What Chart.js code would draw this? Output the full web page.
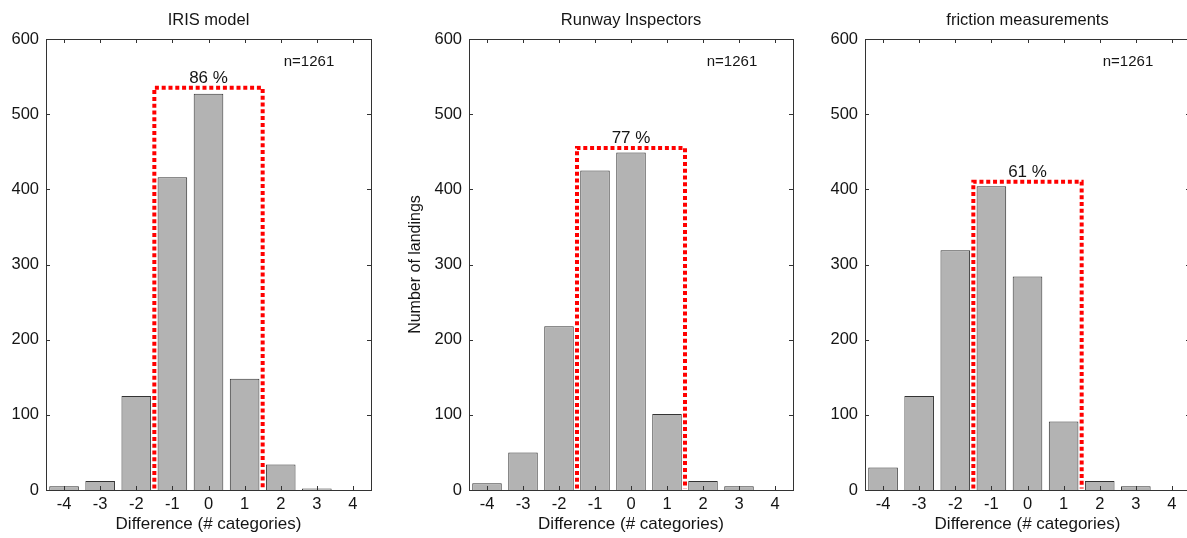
<!DOCTYPE html>
<html>
<head>
<meta charset="utf-8">
<script src="https://cdn.jsdelivr.net/npm/chart.js@4.4.0/dist/chart.umd.min.js"></script>
<style>
    html, body { margin: 0; padding: 0; background: #fff; overflow: hidden; }
    #wrap { position: relative; width: 1187px; height: 538px; overflow: hidden; }
    .panel { position: absolute; top: 0; height: 538px; }
</style>
</head>
<body>
<div id="wrap">
    <div class="panel" style="left:0;width:390px"><canvas id="c1"></canvas></div>
    <div class="panel" style="left:400px;width:410px"><canvas id="c2"></canvas></div>
    <div class="panel" style="left:800px;width:400px"><canvas id="c3"></canvas></div>
</div>
<script>
// ---- data ----
const differences = [-4, -3, -2, -1, 0, 1, 2, 3, 4];
const xTicks = [-4, -3, -2, -1, 0, 1, 2, 3, 4];
const yTicks = [0, 100, 200, 300, 400, 500, 600];

const irisCounts      = [5, 12, 125, 416, 527, 148, 34, 2, 0];
const inspectorCounts = [9, 50, 218, 425, 449, 101, 12, 5, 0];
const frictionCounts  = [30, 125, 319, 404, 284, 91, 12, 5, 0];

const panelTitles = ["IRIS model", "Runway Inspectors", "friction measurements"];
const boxShares = ["86 %", "77 %", "61 %"];
const boxTops = [535, 455, 410];
const boxRange = [-1.5, 1.5];
const boxBottom = 2;
const sampleLabel = "n=1261";

const FONT = '"Liberation Sans", Arial, Helvetica, sans-serif';
const TEXT = "#151515";
Chart.defaults.font.family = FONT;

// frame, inward ticks and the text annotations
const decorPlugin = {
    id: "decor",
    afterDatasetsDraw(chart, args, opts) {
        const ctx = chart.ctx;
        const a = chart.chartArea;
        const xs = chart.scales.x, ys = chart.scales.y;
        ctx.save();

        ctx.strokeStyle = "#333";
        ctx.lineWidth = 1;
        ctx.strokeRect(Math.round(a.left) + 0.5, Math.round(a.top) + 0.5,
            Math.round(a.right - a.left), Math.round(a.bottom - a.top));

        ctx.beginPath();
        xTicks.forEach(function (v) {
            let px = Math.round(xs.getPixelForValue(v)) + 0.5;
            ctx.moveTo(px, a.bottom); ctx.lineTo(px, a.bottom - 4);
            ctx.moveTo(px, a.top); ctx.lineTo(px, a.top + 4);
        });
        yTicks.forEach(function (v) {
            let py = Math.round(ys.getPixelForValue(v)) + 0.5;
            ctx.moveTo(a.left, py); ctx.lineTo(a.left + 4, py);
            ctx.moveTo(a.right, py); ctx.lineTo(a.right - 4, py);
        });
        ctx.stroke();

        ctx.fillStyle = TEXT;
        ctx.textAlign = "center";
        ctx.textBaseline = "middle";

        // panel title
        ctx.font = "16.5px " + FONT;
        ctx.fillText(opts.title, (a.left + a.right) / 2, 20);

        // share inside the box
        ctx.font = "17px " + FONT;
        ctx.fillText(opts.share, xs.getPixelForValue(0), ys.getPixelForValue(opts.boxTop) - 10);

        // sample size
        ctx.font = "15px " + FONT;
        ctx.fillText(sampleLabel, a.left + 263, 62);

        ctx.restore();
    }
};

function makePanel(id, counts, i, yWidth, padRight) {
    let barData = differences.map(function (d, k) { return { x: d, y: counts[k] }; });
    let boxData = [
        { x: boxRange[0], y: boxBottom },
        { x: boxRange[0], y: boxTops[i] },
        { x: boxRange[1], y: boxTops[i] },
        { x: boxRange[1], y: boxBottom }
    ];

    new Chart(document.getElementById(id), {
        type: "bar",
        data: {
            datasets: [
                {
                    type: "line",
                    data: boxData,
                    borderColor: "#ff0000",
                    borderWidth: 4,
                    borderDash: [4, 2.8],
                    borderCapStyle: "butt",
                    borderJoinStyle: "miter",
                    pointRadius: 0,
                    fill: false,
                    tension: 0,
                    order: 0
                },
                {
                    type: "bar",
                    data: barData,
                    backgroundColor: "#b3b3b3",
                    borderColor: "#333",
                    borderWidth: 1,
                    borderSkipped: "start",
                    barPercentage: 0.82,
                    categoryPercentage: 1,
                    order: 1
                }
            ]
        },
        options: {
            responsive: true,
            maintainAspectRatio: false,
            animation: false,
            layout: { padding: { top: 39, right: padRight, left: 0, bottom: 0 } },
            plugins: {
                legend: { display: false },
                tooltip: { enabled: false },
                decor: { title: panelTitles[i], share: boxShares[i], boxTop: boxTops[i] }
            },
            scales: {
                x: {
                    type: "linear",
                    min: -4.5,
                    max: 4.5,
                    offset: false,
                    afterBuildTicks: function (s) { s.ticks = xTicks.map(function (v) { return { value: v }; }); },
                    afterFit: function (s) { s.height = 48; },
                    grid: { display: false, drawTicks: false },
                    border: { display: false },
                    ticks: { color: TEXT, font: { size: 16.5 }, padding: 5, maxRotation: 0, autoSkip: false },
                    title: {
                        display: true,
                        text: "Difference (# categories)",
                        color: TEXT,
                        font: { size: 17 },
                        padding: { top: 0, bottom: 3 }
                    }
                },
                y: {
                    min: 0,
                    max: 600,
                    afterBuildTicks: function (s) { s.ticks = yTicks.map(function (v) { return { value: v }; }); },
                    afterFit: function (s) { s.width = yWidth; },
                    grid: { display: false, drawTicks: false },
                    border: { display: false },
                    ticks: { color: TEXT, font: { size: 16.5 }, padding: 7 },
                    title: {
                        display: i === 1,
                        text: "Number of landings",
                        color: TEXT,
                        font: { size: 16 },
                        padding: { top: 6, bottom: 0 }
                    }
                }
            }
        },
        plugins: [decorPlugin]
    });
}

makePanel("c1", irisCounts, 0, 46, 19);
makePanel("c2", inspectorCounts, 1, 69, 17);
makePanel("c3", frictionCounts, 2, 65, 10);
</script>
</body>
</html>
